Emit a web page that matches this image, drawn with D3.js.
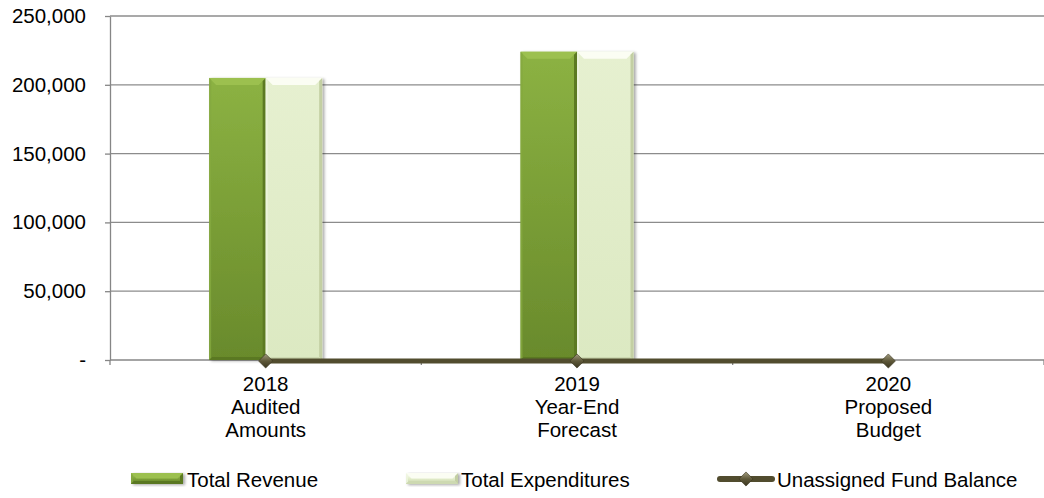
<!DOCTYPE html>
<html>
<head>
<meta charset="utf-8">
<script src="https://cdn.jsdelivr.net/npm/d3@7"></script>
<style>
  html, body { margin: 0; padding: 0; background: #fff; }
  svg { display: block; }
  text { font-family: "Liberation Sans", Arial, sans-serif; fill: #000; }
</style>
</head>
<body>
<svg id="chart" width="1044" height="498"></svg>
<script>
// Fund summary by fiscal year
const categories = ["2018", "2019", "2020"];
const categoryLabels = [
  ["2018", "Audited", "Amounts"],
  ["2019", "Year-End", "Forecast"],
  ["2020", "Proposed", "Budget"]
];
const totalRevenue = [205000, 224000, 0];
const totalExpenditures = [205000, 224000, 0];
const unassignedFundBalance = [0, 0, 0];
const yTickValues = [0, 50000, 100000, 150000, 200000, 250000];
const seriesNames = ["Total Revenue", "Total Expenditures", "Unassigned Fund Balance"];

const svg = d3.select("#chart");
const plot = { left: 110, right: 1044, top: 16, bottom: 360 };
const FONT = 20.5;

const x0 = d3.scaleBand().domain(categories).range([plot.left, plot.right]).padding(0);
const y = d3.scaleLinear().domain([0, 250000]).range([plot.bottom, plot.top]);
const groupHalf = x0.bandwidth() * 0.1815;
const x1 = d3.scaleBand().domain(["rev", "exp"]).range([-groupHalf, groupHalf]).padding(0);
const fmt = v => v === 0 ? "-" : d3.format(",")(v);

// gradients
const defs = svg.append("defs");
function vGrad(id, stops) {
  const g = defs.append("linearGradient").attr("id", id)
    .attr("x1", 0).attr("y1", 0).attr("x2", 0).attr("y2", 1);
  stops.forEach(([o, c]) => g.append("stop").attr("offset", o).attr("stop-color", c));
}
vGrad("revBody", [[0, "#8cb243"], [0.5, "#7a9e36"], [1, "#698a2c"]]);
vGrad("expBody", [[0, "#e6f0d0"], [1, "#dce9c2"]]);
vGrad("revLeg", [[0, "#a6c85a"], [0.5, "#7fa23a"], [1, "#5f7e26"]]);
vGrad("expLeg", [[0, "#ffffff"], [0.5, "#e3edcb"], [1, "#c5d2a8"]]);
const dg = defs.append("linearGradient").attr("id", "diamondFill")
  .attr("x1", 0).attr("y1", 0).attr("x2", 1).attr("y2", 1);
dg.append("stop").attr("offset", 0).attr("stop-color", "#a39d80");
dg.append("stop").attr("offset", 0.5).attr("stop-color", "#5e5839");
dg.append("stop").attr("offset", 1).attr("stop-color", "#3a3620");
const sh = defs.append("filter").attr("id", "shadow").attr("x", "-20%").attr("y", "-10%").attr("width", "150%").attr("height", "130%");
sh.append("feGaussianBlur").attr("in", "SourceAlpha").attr("stdDeviation", 1.5).attr("result", "b");
sh.append("feOffset").attr("in", "b").attr("dx", 2).attr("dy", 1).attr("result", "o");
sh.append("feComponentTransfer").attr("in", "o").attr("result", "s")
  .append("feFuncA").attr("type", "linear").attr("slope", 0.35);
const m = sh.append("feMerge");
m.append("feMergeNode").attr("in", "s");
m.append("feMergeNode").attr("in", "SourceGraphic");

// gridlines
svg.append("g").selectAll("line").data(yTickValues.filter(v => v > 0)).join("line")
  .attr("x1", plot.left).attr("x2", plot.right)
  .attr("y1", d => y(d)).attr("y2", d => y(d))
  .attr("stroke", "#8c8c8c").attr("stroke-width", 1.3);

// y axis
const yAxis = svg.append("g").attr("transform", `translate(${plot.left},0)`)
  .call(d3.axisLeft(y).tickValues(yTickValues).tickFormat(fmt).tickSizeInner(5).tickSizeOuter(0).tickPadding(19));
yAxis.select(".domain").attr("stroke", "#868686").attr("stroke-width", 1.3);
yAxis.selectAll(".tick line").attr("stroke", "#868686").attr("stroke-width", 1.3);
yAxis.selectAll(".tick text").attr("font-size", FONT).attr("font-family", "Liberation Sans, Arial, sans-serif").attr("fill", "#000");

// x axis
const xAxisG = svg.append("g").attr("transform", `translate(0,${plot.bottom})`);
xAxisG.append("line").attr("x1", plot.left).attr("x2", plot.right)
  .attr("stroke", "#868686").attr("stroke-width", 1.3);
const bounds = [plot.left, ...categories.map(c => x0(c) + x0.bandwidth())];
xAxisG.selectAll(".xt").data(bounds).join("line").attr("class", "xt")
  .attr("x1", d => d).attr("x2", d => d).attr("y1", 0).attr("y2", 5)
  .attr("stroke", "#868686").attr("stroke-width", 1.3);

const labels = svg.append("g").selectAll("text").data(categories).join("text")
  .attr("text-anchor", "middle").attr("font-size", FONT)
  .attr("transform", d => `translate(${x0(d) + x0.bandwidth() / 2},391)`);
labels.selectAll("tspan").data((d, i) => categoryLabels[i]).join("tspan")
  .attr("x", 0).attr("dy", (d, i) => i === 0 ? 0 : 23).text(d => d);

// beveled bar
function bevelBar(g, x, yTop, w, h, kind, bodyFill) {
  if (h <= 0) return;
  const b = Math.min(7, w / 4, h / 2);
  const bg = g.append("g").attr("filter", "url(#shadow)");
  bg.append("rect").attr("x", x).attr("y", yTop).attr("width", w).attr("height", h)
    .attr("fill", bodyFill || (kind === "rev" ? "url(#revBody)" : "url(#expBody)"));
  const top = kind === "rev" ? "#9cc050" : "#fbfdf3";
  const left = kind === "rev" ? "#85a93e" : "#eef5de";
  const right = kind === "rev" ? "#5c7a24" : "#c3cfa3";
  const bottom = kind === "rev" ? "#5a7823" : "#cdd9b1";
  const P = pts => pts.map(p => p.join(",")).join(" ");
  const x2 = x + w, y2 = yTop + h;
  bg.append("polygon").attr("fill", top)
    .attr("points", P([[x, yTop], [x2, yTop], [x2 - b, yTop + b], [x + b, yTop + b]]));
  bg.append("polygon").attr("fill", left).attr("opacity", 0.8)
    .attr("points", P([[x, yTop], [x + 2, yTop + 2], [x + 2, y2 - 2], [x, y2]]));
  bg.append("polygon").attr("fill", right)
    .attr("points", P([[x2, yTop], [x2, y2], [x2 - 3, y2 - 3], [x2 - 3, yTop + 3]]));
  bg.append("polygon").attr("fill", bottom)
    .attr("points", P([[x, y2], [x2, y2], [x2 - 3, y2 - 3], [x + 3, y2 - 3]]));
}

const barsG = svg.append("g");
categories.forEach((c, i) => {
  const cx = x0(c) + x0.bandwidth() / 2;
  [["rev", totalRevenue[i]], ["exp", totalExpenditures[i]]].forEach(([k, v]) => {
    bevelBar(barsG, cx + x1(k), y(v), x1.bandwidth(), y(0) - y(v), k);
  });
});

// fund balance line
const lineColor = "#514c2e";
const lineData = categories.map((c, i) => ({ x: x0(c) + x0.bandwidth() / 2, y: y(unassignedFundBalance[i]) }));
svg.append("path").datum(lineData)
  .attr("d", d3.line().x(d => d.x).y(d => d.y + 1))
  .attr("fill", "none").attr("stroke", lineColor).attr("stroke-width", 5);
const diamond = d3.symbol(d3.symbolSquare, 100);
svg.append("g").selectAll("path").data(lineData).join("path")
  .attr("d", diamond)
  .attr("transform", d => `translate(${d.x},${d.y + 1}) rotate(45)`)
  .attr("fill", "url(#diamondFill)").attr("stroke", "#3a3620").attr("stroke-width", 0.6);

// legend
const legY = 479;
const leg1 = svg.append("g");
bevelBar(leg1, 131, legY - 6, 52, 11, "rev", "url(#revLeg)");
leg1.append("text").attr("x", 187).attr("y", legY + 7.5).attr("font-size", FONT).text(seriesNames[0]);
const leg2 = svg.append("g");
bevelBar(leg2, 406, legY - 6, 52, 11, "exp", "url(#expLeg)");
leg2.append("text").attr("x", 461).attr("y", legY + 7.5).attr("font-size", FONT).text(seriesNames[1]);
const leg3 = svg.append("g");
leg3.append("line").attr("x1", 720).attr("x2", 772).attr("y1", legY).attr("y2", legY)
  .attr("stroke", lineColor).attr("stroke-width", 6).attr("stroke-linecap", "round");
leg3.append("path").attr("d", diamond).attr("transform", `translate(746,${legY}) rotate(45)`)
  .attr("fill", "url(#diamondFill)").attr("stroke", "#3a3620").attr("stroke-width", 0.6);
leg3.append("text").attr("x", 777).attr("y", legY + 7.5).attr("font-size", FONT).text(seriesNames[2]);
</script>
</body>
</html>
